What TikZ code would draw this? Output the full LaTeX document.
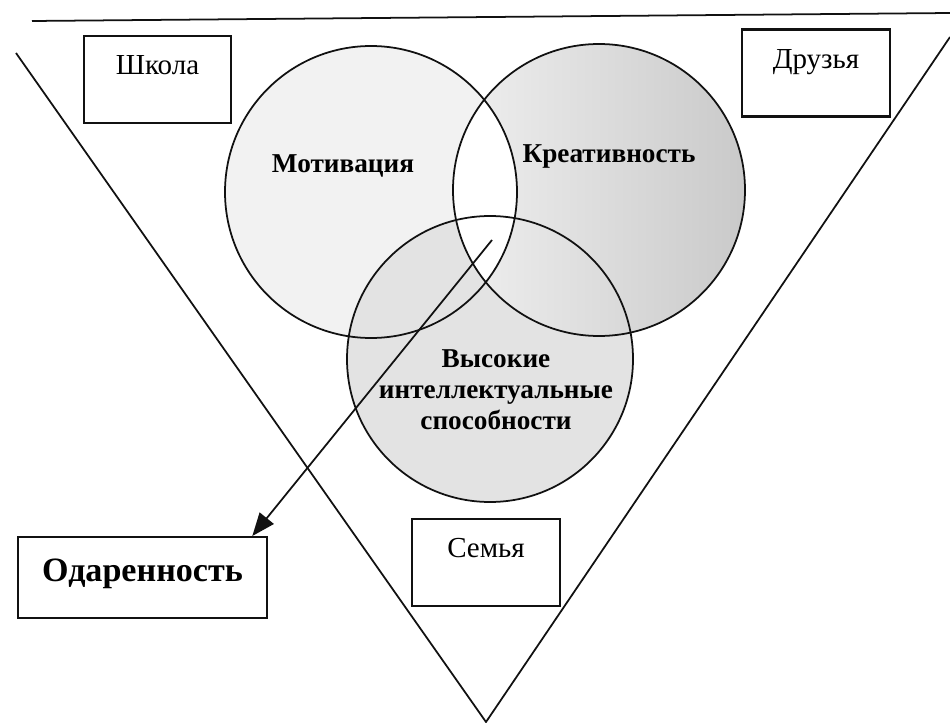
\documentclass[tikz,border=0pt]{standalone}
\usepackage{fontspec}
\setmainfont{Liberation Serif}
\usetikzlibrary{positioning, arrows.meta}
\definecolor{mInk}{HTML}{111111}

\begin{document}
\begin{tikzpicture}[
  x=0.02cm, y=-0.02cm,
  frame/.style={
    draw=mInk,
    line width=1.2pt,
    inner sep=0pt,
    minimum width=84pt,
    text height=22pt,
    text depth=27.5pt,
    align=center,
    font=\fontsize{16.5}{18}\selectfont
  },
  ring/.style={
    draw=mInk,
    line width=1pt
  },
  title/.style={
    font=\fontsize{15.5}{17.6}\selectfont\bfseries,
    align=center
  },
  edge/.style={
    draw=mInk,
    line width=1pt
  },
  arrow/.style={
    -{Triangle[length=4.6mm, width=3.6mm]},
    draw=mInk,
    line width=1pt
  }
]
\useasboundingbox (0,0) rectangle (950,723);

% circle centres
\coordinate (cmot) at (371,192);
\coordinate (ccre) at (599,190);
\coordinate (cint) at (490,359);

% fills
\fill[gray!10] (cmot) circle[radius=146];
\fill[gray!22] (cint) circle[radius=143];
\shade[left color=gray!12, right color=gray!42] (ccre) circle[radius=146];
\begin{scope}
  \clip (cmot) circle[radius=146];
  \fill[white] (ccre) circle[radius=146];
\end{scope}

% outlines
\draw[ring] (cmot) circle[radius=146];
\draw[ring] (ccre) circle[radius=146];
\draw[ring] (cint) circle[radius=143];

% frame of the field
\coordinate (topl) at (32,21);
\coordinate (topr) at (950,13);
\coordinate (legl) at (16,53);
\coordinate (legr) at (950,37);
\coordinate (apex) at (486,722);
\draw[edge] (topl) -- (topr);
\draw[edge] (legl) -- (apex) -- (legr);

% circle labels
\node[title, anchor=base] (mot) at (343,173) {Мотивация};
\node[title, anchor=base] (cre) at (609,162) {Креативность};
\node[title] (intel) at (496,390) {Высокие\\интеллектуальные\\способности};

% surroundings
\node[frame] (school) at (157.5,79.5) {Школа};
\node[frame] (friends) at (816,73) {Друзья};
\node[frame] (family) at (486,562.5) {Семья};
\node[frame, minimum width=142pt, text height=25pt, text depth=21pt,
      font=\fontsize{19.4}{21}\selectfont\bfseries] (gift) at (142.5,577.5) {Одаренность};

\coordinate (core) at (492,240);
\draw[arrow] (core) -- ([xshift=-0.32cm]gift.north east);

\end{tikzpicture}
\end{document}
